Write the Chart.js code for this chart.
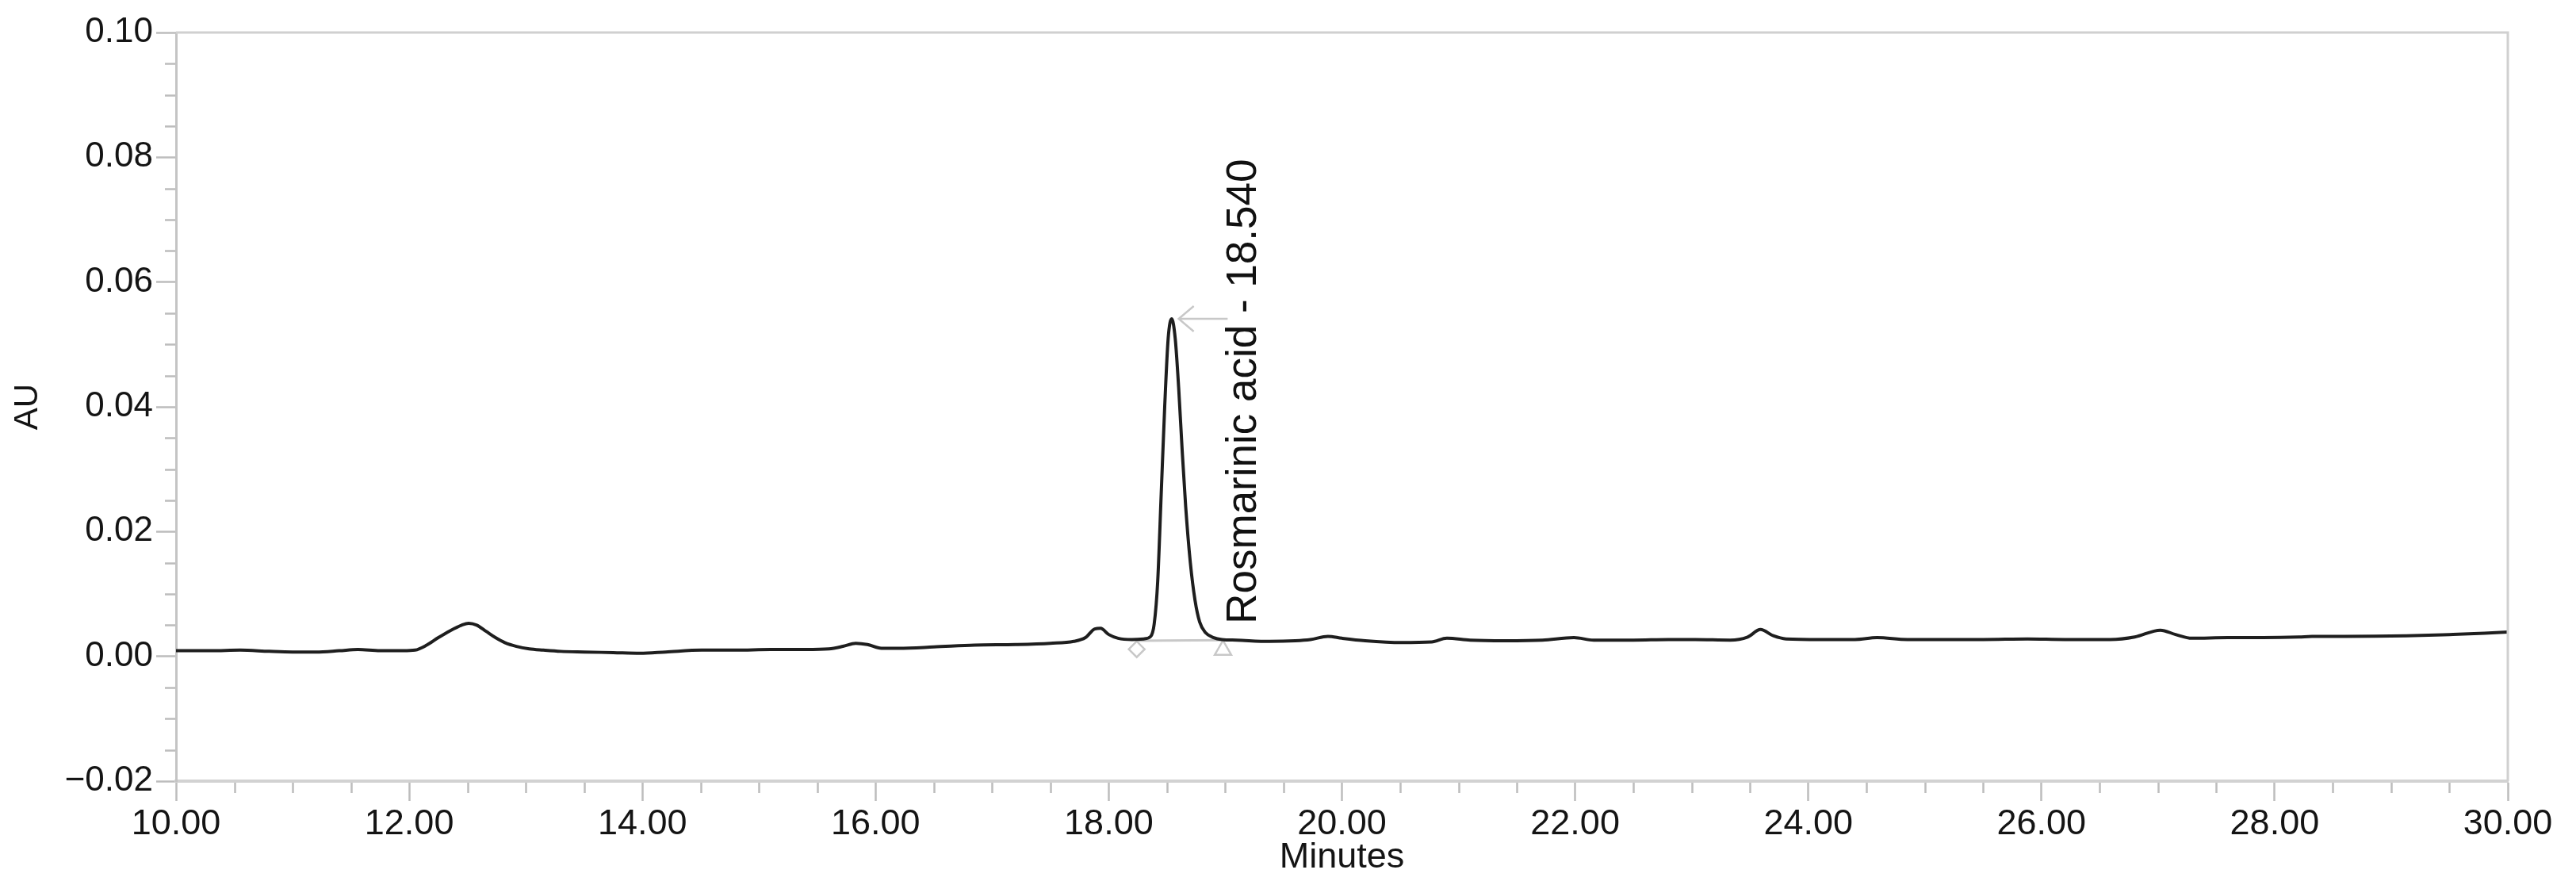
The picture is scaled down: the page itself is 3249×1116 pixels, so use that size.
<!DOCTYPE html>
<html>
<head>
<meta charset="utf-8">
<script src="https://cdn.jsdelivr.net/npm/chart.js"></script>
<style>
  html, body { margin: 0; padding: 0; background: #ffffff; }
  #wrap { width: 3249px; height: 1116px; }
</style>
</head>
<body>
<div id="wrap"><canvas id="c" width="3249" height="1116"></canvas></div>
<script>
// ---- data ----
const times = [
  10.00, 10.30, 10.55, 10.80, 11.00, 11.20, 11.40, 11.56, 11.75, 11.95,
  12.05, 12.15, 12.25, 12.35, 12.45, 12.51, 12.58, 12.66, 12.74, 12.82,
  12.92, 13.03, 13.15, 13.30, 13.50, 13.75, 13.98, 14.20, 14.51, 14.80,
  15.10, 15.40, 15.60, 15.72, 15.83, 15.93, 16.05, 16.20, 16.50, 16.85,
  17.20, 17.50, 17.70, 17.80, 17.88, 17.93, 18.00, 18.08, 18.20, 18.30,
  18.36, 18.39, 18.42, 18.45, 18.48, 18.51, 18.54, 18.57, 18.60, 18.63,
  18.66, 18.70, 18.74, 18.78, 18.83, 18.90, 18.97, 19.10, 19.38, 19.60,
  19.73, 19.88, 20.00, 20.20, 20.51, 20.77, 20.90, 21.10, 21.40, 21.72,
  21.99, 22.16, 22.50, 22.80, 23.03, 23.33, 23.48, 23.59, 23.70, 23.81,
  24.10, 24.40, 24.59, 24.85, 25.20, 25.50, 25.88, 26.20, 26.59, 26.80,
  27.02, 27.15, 27.29, 27.60, 27.90, 28.21, 28.32, 28.60, 29.13, 29.50,
  29.80, 30.00
];
const absorbance = [
  0.0009, 0.0009, 0.0010, 0.0008, 0.0007, 0.0007, 0.0009, 0.0011, 0.0009, 0.0009,
  0.0010, 0.0018, 0.0030, 0.0041, 0.0050, 0.0053, 0.0050, 0.0040, 0.0030, 0.0022,
  0.0016, 0.0012, 0.0010, 0.0008, 0.0007, 0.0006, 0.0005, 0.0007, 0.0010, 0.0010,
  0.0011, 0.0011, 0.0012, 0.0016, 0.0021, 0.0019, 0.0013, 0.0013, 0.0015, 0.0018,
  0.0019, 0.0021, 0.0024, 0.0030, 0.0044, 0.0045, 0.0035, 0.0029, 0.0027, 0.0028,
  0.0032, 0.0052, 0.0120, 0.0260, 0.0400, 0.0510, 0.0541, 0.0510, 0.0430, 0.0330,
  0.0240, 0.0150, 0.0090, 0.0055, 0.0038, 0.0030, 0.0027, 0.0026, 0.0024, 0.0025,
  0.0027, 0.0032, 0.0029, 0.0025, 0.0022, 0.0023, 0.0029, 0.0026, 0.0025, 0.0026,
  0.0030, 0.0026, 0.0026, 0.0027, 0.0027, 0.0026, 0.0031, 0.0043, 0.0033, 0.0028,
  0.0027, 0.0027, 0.0030, 0.0027, 0.0027, 0.0027, 0.0028, 0.0027, 0.0027, 0.0031,
  0.0042, 0.0035, 0.0029, 0.0030, 0.0030, 0.0031, 0.0032, 0.0032, 0.0033, 0.0035,
  0.0037, 0.0039
];
// integration baseline (start, end) and its markers
const baselineTimes = [18.24, 18.98];
const baselineValues = [0.0025, 0.0026];
const startMarker = { x: 18.24, y: 0.00114 };
const endMarker = { x: 18.98, y: 0.00102 };
// peak annotation
const peakLabel = 'Rosmarinic acid - 18.540';
const labelAnchor = { x: 19.16, y: 0.0052 };
const arrowStart = { x: 19.02, y: 0.0541 };
const arrowEnd = { x: 18.60, y: 0.0541 };
// axes
const xTickValues = [10, 12, 14, 16, 18, 20, 22, 24, 26, 28, 30];
const xTickLabels = ['10.00', '12.00', '14.00', '16.00', '18.00', '20.00', '22.00', '24.00', '26.00', '28.00', '30.00'];
const yTickValues = [-0.02, 0.00, 0.02, 0.04, 0.06, 0.08, 0.10];
const yTickLabels = ['\u22120.02', '0.00', '0.02', '0.04', '0.06', '0.08', '0.10'];
const xMin = 10, xMax = 30, xMinorStep = 0.5;
const yMin = -0.02, yMax = 0.10, yMinorStep = 0.005;
const xTitle = 'Minutes';
const yTitle = 'AU';

// ---- styling ----
const FONT = "'Liberation Sans', Arial, Helvetica, sans-serif";
const AXIS_GRAY = '#c4c4c4';
const TICK_GRAY = '#bdbdbd';
const MARK_GRAY = '#c8c8c8';

const traceData = times.map((t, i) => ({ x: t, y: absorbance[i] }));
const baselineData = baselineTimes.map((t, i) => ({ x: t, y: baselineValues[i] }));

const extras = {
  id: 'extras',
  afterDatasetsDraw(chart) {
    const { ctx, chartArea: a, scales: { x, y } } = chart;
    ctx.save();
    // frame top & right
    ctx.strokeStyle = '#d0d0d0';
    ctx.lineWidth = 3;
    ctx.beginPath();
    ctx.moveTo(a.left, a.top);
    ctx.lineTo(a.right, a.top);
    ctx.lineTo(a.right, a.bottom);
    ctx.stroke();
    // minor ticks
    ctx.strokeStyle = TICK_GRAY;
    ctx.lineWidth = 2.5;
    ctx.beginPath();
    const nx = Math.round((xMax - xMin) / xMinorStep);
    for (let i = 0; i <= nx; i++) {
      if (i % 4 === 0) continue;
      const px = Math.round(x.getPixelForValue(xMin + i * xMinorStep)) + 0.5;
      ctx.moveTo(px, a.bottom + 2);
      ctx.lineTo(px, a.bottom + 15);
    }
    const ny = Math.round((yMax - yMin) / yMinorStep);
    for (let i = 0; i <= ny; i++) {
      if (i % 4 === 0) continue;
      const py = Math.round(y.getPixelForValue(yMin + i * yMinorStep)) + 0.5;
      ctx.moveTo(a.left - 14, py);
      ctx.lineTo(a.left - 1, py);
    }
    ctx.stroke();
    // arrow to the peak
    const ax0 = x.getPixelForValue(arrowStart.x), ay0 = y.getPixelForValue(arrowStart.y);
    const ax1 = x.getPixelForValue(arrowEnd.x), ay1 = y.getPixelForValue(arrowEnd.y);
    ctx.strokeStyle = MARK_GRAY;
    ctx.lineWidth = 2.5;
    ctx.beginPath();
    ctx.moveTo(ax0, ay0);
    ctx.lineTo(ax1, ay1);
    ctx.moveTo(ax1 + 19, ay1 - 16);
    ctx.lineTo(ax1, ay1);
    ctx.lineTo(ax1 + 19, ay1 + 16);
    ctx.stroke();
    // peak label
    ctx.translate(x.getPixelForValue(labelAnchor.x), y.getPixelForValue(labelAnchor.y));
    ctx.rotate(-Math.PI / 2);
    ctx.fillStyle = '#111111';
    ctx.font = '53px ' + FONT;
    ctx.textAlign = 'left';
    ctx.textBaseline = 'middle';
    ctx.fillText(peakLabel, 0, 0);
    ctx.restore();
  }
};

new Chart(document.getElementById('c'), {
  type: 'line',
  data: {
    datasets: [
      {
        label: 'trace',
        data: traceData,
        borderColor: '#1e1e1e',
        borderWidth: 4,
        pointRadius: 0,
        fill: false,
        cubicInterpolationMode: 'monotone',
        order: 1
      },
      {
        label: 'baseline',
        data: baselineData,
        borderColor: MARK_GRAY,
        borderWidth: 3,
        pointRadius: 0,
        fill: false,
        order: 2
      },
      {
        label: 'start',
        data: [startMarker],
        showLine: false,
        pointStyle: 'rectRot',
        pointRadius: 10,
        pointBorderWidth: 2.5,
        pointBorderColor: MARK_GRAY,
        pointBackgroundColor: '#ffffff',
        order: 3
      },
      {
        label: 'end',
        data: [endMarker],
        showLine: false,
        pointStyle: 'triangle',
        pointRadius: 12,
        pointBorderWidth: 2.5,
        pointBorderColor: MARK_GRAY,
        pointBackgroundColor: '#ffffff',
        order: 3
      }
    ]
  },
  options: {
    responsive: false,
    animation: false,
    devicePixelRatio: 1,
    layout: { padding: { top: 41, right: 86, left: 0, bottom: 0 } },
    plugins: { legend: { display: false }, tooltip: { enabled: false } },
    scales: {
      x: {
        type: 'linear',
        min: xMin,
        max: xMax,
        afterBuildTicks: (s) => { s.ticks = xTickValues.map(v => ({ value: v })); },
        afterFit: (s) => { s.height = 131; },
        ticks: {
          callback: (v, i) => xTickLabels[i],
          font: { family: FONT, size: 45 },
          color: '#141414',
          padding: 3,
          maxRotation: 0,
          autoSkip: false
        },
        grid: { drawOnChartArea: false, drawTicks: true, tickLength: 25, tickColor: TICK_GRAY, tickWidth: 2.5 },
        border: { display: true, color: '#d2d2d2', width: 4 },
        title: { display: true, text: xTitle, color: '#141414', font: { family: FONT, size: 45 }, padding: { top: 0, bottom: 7 } }
      },
      y: {
        min: yMin,
        max: yMax,
        afterBuildTicks: (s) => { s.ticks = yTickValues.map(v => ({ value: v })); },
        afterFit: (s) => { s.width = 222; },
        ticks: {
          callback: (v, i) => yTickLabels[i],
          font: { family: FONT, size: 44 },
          color: '#141414',
          padding: 4,
          autoSkip: false
        },
        grid: { drawOnChartArea: false, drawTicks: true, tickLength: 25, tickColor: TICK_GRAY, tickWidth: 2.5 },
        border: { display: true, color: AXIS_GRAY, width: 3 },
        title: { display: true, text: yTitle, color: '#141414', font: { family: FONT, size: 42 }, padding: { top: 10, bottom: 0 } }
      }
    }
  },
  plugins: [extras]
});
</script>
</body>
</html>
